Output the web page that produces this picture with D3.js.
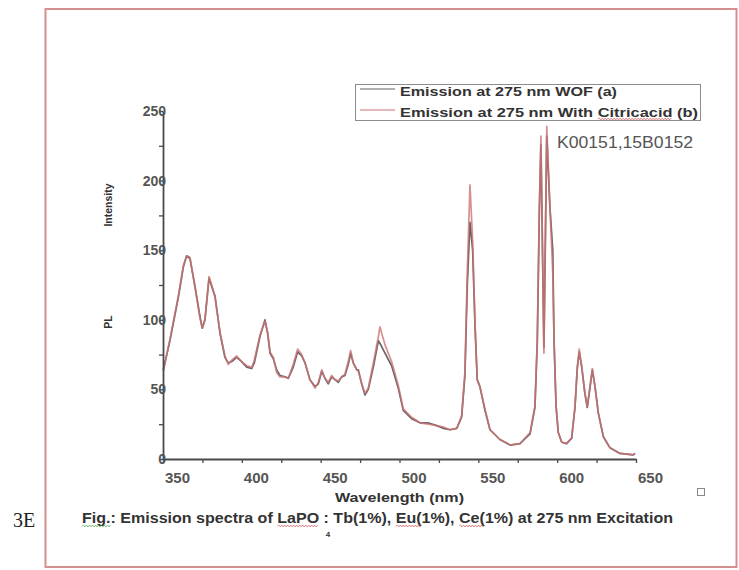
<!DOCTYPE html>
<html><head><meta charset="utf-8">
<script src="https://cdn.jsdelivr.net/npm/d3@7"></script>
<style>body{margin:0;background:#fff} svg{display:block}</style>
</head><body><svg id="c" width="739" height="570"></svg>
<script>
// ---- data ----
const wavelength = [350.2,354.4,359.7,362.9,365.0,367.1,370.3,373.5,374.9,376.6,379.2,380.9,383.0,386.2,389.3,391.4,393.6,396.7,399.9,403.1,406.3,407.9,411.5,414.7,416.4,417.9,420.0,422.1,424.2,427.4,429.5,432.6,435.4,438.0,440.1,443.2,446.4,448.5,450.7,452.7,454.8,457.0,459.1,461.2,463.3,465.4,467.5,469.0,470.7,472.9,473.9,476.0,478.1,480.2,483.4,486.6,487.6,490.8,495.0,499.2,502.4,507.7,513.0,518.0,523.6,528.0,532.0,536.3,539.4,541.5,543.0,544.7,546.4,547.9,549.3,551.0,554.2,557.4,563.7,570.1,576.4,582.8,585.9,587.4,588.7,589.7,591.6,593.4,595.4,597.2,598.0,599.3,600.7,602.9,606.0,609.2,611.3,612.8,614.0,615.6,617.6,619.1,620.8,622.3,624.0,626.1,629.3,633.5,639.8,648.3,649.4];
const intensityWOF = [64,85,116,138,146,144,124,102,94,100,130,124,117,90,73,69,70,73,70,66,65,69,88,100,90,76,72,64,60,59,58,66,77,74,69,57,52,54,63,58,54,59,57,55,59,60,68,76,69,64,64,54,46,50,66,85,83,76,67,51,35,29,26,26,24,22,21,22,30,60,125,170,150,95,57,52,35,21,14,10,11,18,37,84,178,226,80,232,181,150,86,38,19,12,11,15,37,66,77,66,47,37,51,64,52,33,16,8,4,3,4];
const intensityCitric = [63,86,117,139,146,145,123,101,94,100,131,125,116,91,74,68,71,74,70,67,66,71,89,99,91,77,73,62,59,59,58,68,79,75,69,57,51,55,64,58,55,60,57,56,59,61,70,78,69,64,63,54,47,51,69,88,95,82,70,53,36,30,26,25,24,23,21,22,31,63,135,197,157,98,57,52,36,21,14,10,11,19,38,86,181,232,76,239,181,134,86,38,19,12,11,15,38,66,79,66,47,38,52,65,52,33,16,8,4,3,4];
const seriesNames = ["Emission at 275 nm WOF (a)", "Emission at 275 nm With Citricacid (b)"];
const seriesColors = ["#6a6266", "#cc7474"];
const xTicks = [350,375,400,425,450,475,500,525,550,575,600,625,650];
const xTickLabels = [350,400,450,500,550,600,650];
const yTicks = [0,25,50,75,100,125,150,175,200,225,250];
const yTickLabels = [0,50,100,150,200,250];
const xTitle = "Wavelength (nm)";
const yTitleWords = ["PL", "Intensity"];
const sampleCode = "K00151,15B0152";
const figLabel = "3E";
const captionText = "Fig.: Emission spectra of LaPO : Tb(1%), Eu(1%), Ce(1%) at 275 nm Excitation";
const captionSub = "4";

const svg = d3.select("#c");
const FONT = "'Liberation Sans', Arial, sans-serif";

// outer frame
svg.append("rect").attr("x",45.5).attr("y",9).attr("width",691).attr("height",558)
  .attr("fill","#fff").attr("stroke","#d58f8f").attr("stroke-width",2);

const x = d3.scaleLinear().domain([350,650]).range([163,636]);
const y = d3.scaleLinear().domain([0,250]).range([459,111]);

function squiggle(x1,x2,yy,color){
  let d = `M${x1},${yy}`; let up = true;
  for (let xx=x1+1.5; xx<=x2; xx+=1.5){ d += `L${xx},${yy+(up?-1:1)}`; up=!up; }
  svg.append("path").attr("d",d).attr("fill","none").attr("stroke",color).attr("stroke-width",0.8).attr("opacity",0.8);
}
function fitText(sel, target, marks){
  const n = sel.node();
  const w = n.getComputedTextLength();
  const str = n.textContent;
  const x0 = +sel.attr("x");
  const k = target / w;
  const res = (marks||[]).map(([word,color,dy]) => {
    const idx = str.indexOf(word);
    const pre = idx>0 ? n.getSubStringLength(0, idx) : 0;
    const len = n.getSubStringLength(idx, word.length);
    return [x0 + pre*k, x0 + (pre+len)*k, color, dy];
  });
  sel.attr("textLength", target).attr("lengthAdjust","spacingAndGlyphs");
  return res;
}

// curves
const line = d3.line().x((d)=>x(d[0])).y((d)=>y(d[1]));
const seriesData = [intensityWOF, intensityCitric].map(vals => wavelength.map((w,i)=>[w, vals[i]]));
seriesData.forEach((data,i)=>{
  svg.append("path").datum(data).attr("d",line).attr("fill","none")
    .attr("stroke",seriesColors[i]).attr("stroke-width",1.7)
    .attr("stroke-linejoin","round").attr("opacity", i===1?0.8:1);
});

// axes
const gx = svg.append("g").attr("transform","translate(0,459)")
  .call(d3.axisBottom(x).tickValues(xTicks).tickSize(4).tickSizeOuter(0)
    .tickFormat(d => xTickLabels.includes(d) ? d : ""));
gx.selectAll("text").attr("x",14).attr("y",13).attr("font-size",15).attr("font-weight","bold")
  .attr("font-family",FONT).attr("fill","#555");
const gy = svg.append("g").attr("transform","translate(163,0)")
  .call(d3.axisLeft(y).tickValues(yTicks).tickSize(4).tickSizeOuter(0)
    .tickFormat(d => yTickLabels.includes(d) ? d : ""));
gy.selectAll("text").attr("x",3).attr("font-size",14).attr("font-weight","bold")
  .attr("font-family",FONT).attr("fill","#555");
[gx,gy].forEach(g=>{
  g.select(".domain").attr("stroke","#4a4a4a").attr("stroke-width",1.8);
  g.selectAll(".tick line").attr("stroke","#4a4a4a").attr("stroke-width",1.3);
});

// axis titles
const xt = svg.append("text").attr("x",335).attr("y",502).attr("font-family",FONT)
  .attr("font-size",13).attr("font-weight","bold").attr("fill","#333").text(xTitle);
fitText(xt,129);
const yTitleCenters = [322, 205];
yTitleWords.forEach((w,i)=>{
  svg.append("text").attr("transform",`translate(112,${yTitleCenters[i]}) rotate(-90)`)
    .attr("text-anchor","middle").attr("font-family",FONT).attr("font-size",10.5)
    .attr("font-weight","bold").attr("fill","#333").text(w);
});

// legend
svg.append("rect").attr("x",355.5).attr("y",84.5).attr("width",345).attr("height",36)
  .attr("fill","none").attr("stroke","#8c8c8c").attr("stroke-width",1);
const legY = [96, 117];
const legLineY = [89, 110];
const legWidths = [217, 298];
seriesNames.forEach((name,i)=>{
  svg.append("line").attr("x1",360).attr("x2",395).attr("y1",legLineY[i]).attr("y2",legLineY[i])
    .attr("stroke",seriesColors[i]).attr("stroke-width",1.2);
  const t = svg.append("text").attr("x",400).attr("y",legY[i]).attr("font-family",FONT)
    .attr("font-size",13.5).attr("font-weight","bold").attr("fill","#333").text(name);
  const marks = fitText(t, legWidths[i], i===1 ? [["Citricacid","#d05050",2]] : []);
  marks.forEach(m=>squiggle(m[0],m[1],legY[i]+m[3],m[2]));
});

// sample code
const kc = svg.append("text").attr("x",557).attr("y",148).attr("font-family",FONT)
  .attr("font-size",16).attr("fill","#555").text(sampleCode);
fitText(kc,136);

// small square marker
svg.append("rect").attr("x",697.5).attr("y",488.5).attr("width",7).attr("height",7)
  .attr("fill","none").attr("stroke","#888").attr("stroke-width",1);

// caption
svg.append("text").attr("x",13).attr("y",527).attr("font-family","'Liberation Serif', 'Times New Roman', serif")
  .attr("font-size",20).attr("fill","#222").text(figLabel);
const cap = svg.append("text").attr("x",82).attr("y",523).attr("font-family",FONT)
  .attr("font-size",14).attr("font-weight","bold").attr("fill","#333").text(captionText);
const capMarks = fitText(cap, 591, [["Fig.","#4aa04a",3],["LaPO","#d05050",3],["Eu(","#d05050",3],["Ce(","#d05050",3]]);
capMarks.forEach(m=>squiggle(m[0],m[1],523+m[3],m[2]));
svg.append("text").attr("x",328).attr("y",537).attr("text-anchor","middle").attr("font-family",FONT)
  .attr("font-size",8).attr("font-weight","bold").attr("fill","#333").text(captionSub);
</script></body></html>
